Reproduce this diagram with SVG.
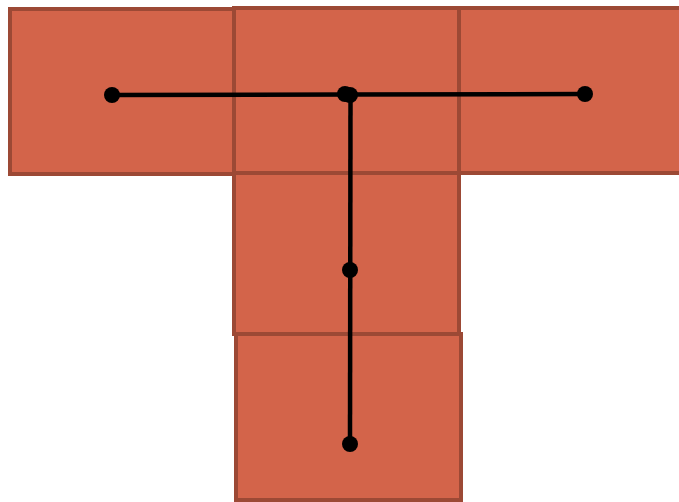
<svg xmlns="http://www.w3.org/2000/svg" width="679" height="502" viewBox="0 0 679 502">
<style>
.tile{fill:#D3644A;stroke:#9C4935;stroke-width:4}
.link{stroke:#000;stroke-width:4.5;fill:none}
.dot{fill:#000}
</style>
<rect width="679" height="502" fill="#fff"/>
<g id="tile-left"><rect class="tile" x="10" y="9" width="224" height="165"/></g>
<g id="tile-right"><rect class="tile" x="459" y="8" width="230" height="165"/></g>
<g id="tile-center"><rect class="tile" x="234" y="8" width="225" height="165"/></g>
<g id="tile-middle"><rect class="tile" x="234" y="173" width="225" height="161"/></g>
<g id="tile-bottom"><rect class="tile" x="236" y="334" width="225" height="166"/></g>
<g id="connectors">
<path class="link" d="M112 95 L347 94.5 L585 94"/>
<path class="link" d="M350.5 94 L350 444"/>
</g>
<g id="points">
<circle class="dot" cx="112" cy="95" r="8"/>
<circle class="dot" cx="345" cy="94" r="8"/>
<circle class="dot" cx="350" cy="95" r="8"/>
<circle class="dot" cx="585" cy="94" r="8"/>
<circle class="dot" cx="350" cy="270" r="8"/>
<circle class="dot" cx="350" cy="444" r="8"/>
</g>
</svg>
